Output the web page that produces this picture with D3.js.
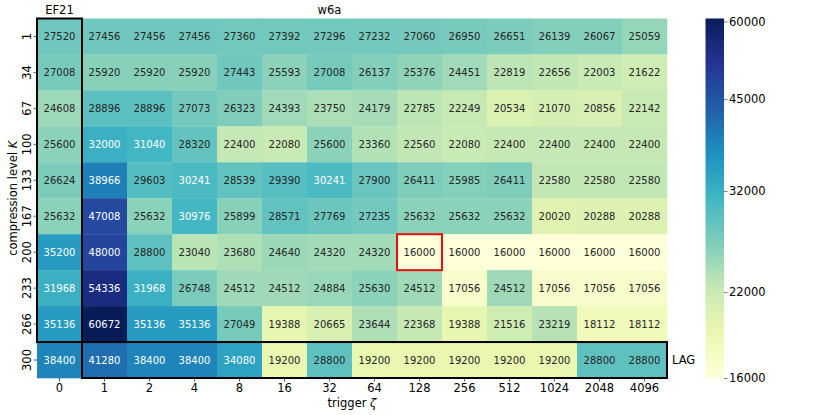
<!DOCTYPE html>
<html>
<head>
<meta charset="utf-8">
<script src="https://cdn.jsdelivr.net/npm/d3@7"></script>
<style>
  body { margin: 0; background: #fff; }
  text { font-family: "DejaVu Sans", sans-serif; }
</style>
</head>
<body>
<svg id="chart" width="830" height="415"></svg>
<script>
const triggers = ["0","1","2","4","8","16","32","64","128","256","512","1024","2048","4096"];
const levels = ["1","34","67","100","133","167","200","233","266","300"];
const values = [
  [27520,27456,27456,27456,27360,27392,27296,27232,27060,26950,26651,26139,26067,25059],
  [27008,25920,25920,25920,27443,25593,27008,26137,25376,24451,22819,22656,22003,21622],
  [24608,28896,28896,27073,26323,24393,23750,24179,22785,22249,20534,21070,20856,22142],
  [25600,32000,31040,28320,22400,22080,25600,23360,22560,22080,22400,22400,22400,22400],
  [26624,38966,29603,30241,28539,29390,30241,27900,26411,25985,26411,22580,22580,22580],
  [25632,47008,25632,30976,25899,28571,27769,27235,25632,25632,25632,20020,20288,20288],
  [35200,48000,28800,23040,23680,24640,24320,24320,16000,16000,16000,16000,16000,16000],
  [31968,54336,31968,26748,24512,24512,24884,25630,24512,17056,24512,17056,17056,17056],
  [35136,60672,35136,35136,27049,19388,20665,23644,22368,19388,21516,23219,18112,18112],
  [38400,41280,38400,38400,34080,19200,28800,19200,19200,19200,19200,19200,28800,28800]
];
const colorbarTicks = [16000, 22000, 32000, 45000, 60000];
const ylgnbu = ["#ffffd9","#edf8b1","#c7e9b4","#7fcdbb","#41b6c4","#1d91c0","#225ea8","#253494","#081d58"];

const svg = d3.select("#chart");
const L = 37, R = 667, T = 18.5, B = 378;

const x = d3.scaleBand().domain(triggers).range([L, R]);
const y = d3.scaleBand().domain(levels).range([T, B]);

const vmin = 16000, vmax = d3.max(values.flat());
const norm = d3.scaleLog().domain([vmin, vmax]).range([0, 1]).clamp(true);
const cmap = d3.scaleLinear()
  .domain(ylgnbu.map((_, i) => i / (ylgnbu.length - 1)))
  .range(ylgnbu)
  .interpolate(d3.interpolateRgb);
const color = v => cmap(norm(v));

function luminance(c) {
  const rgb = d3.rgb(c);
  const f = u => { u /= 255; return u <= 0.03928 ? u / 12.92 : Math.pow((u + 0.055) / 1.055, 2.4); };
  return 0.2126 * f(rgb.r) + 0.7152 * f(rgb.g) + 0.0722 * f(rgb.b);
}

const cells = [];
values.forEach((row, i) => row.forEach((v, j) => cells.push({ r: levels[i], c: triggers[j], v })));

svg.append("g").selectAll("rect").data(cells).join("rect")
  .attr("x", d => x(d.c)).attr("y", d => y(d.r))
  .attr("width", x.bandwidth() + 0.3).attr("height", y.bandwidth() + 0.3)
  .attr("fill", d => color(d.v));

svg.append("g").selectAll("text").data(cells).join("text")
  .attr("x", d => x(d.c) + x.bandwidth() / 2)
  .attr("y", d => y(d.r) + y.bandwidth() / 2)
  .attr("text-anchor", "middle").attr("dominant-baseline", "central")
  .attr("font-size", "10px")
  .attr("fill", d => luminance(color(d.v)) > 0.408 ? "#262626" : "#ffffff")
  .text(d => d.v);

// Boxes
const bw = x.bandwidth(), bh = y.bandwidth();
svg.append("rect")
  .attr("x", x("0")).attr("y", y("1"))
  .attr("width", bw).attr("height", y("300") - y("1"))
  .attr("fill", "none").attr("stroke", "#000").attr("stroke-width", 2);
svg.append("rect")
  .attr("x", x("1")).attr("y", y("300"))
  .attr("width", R - x("1")).attr("height", bh)
  .attr("fill", "none").attr("stroke", "#000").attr("stroke-width", 2);
svg.append("rect")
  .attr("x", x("128")).attr("y", y("200"))
  .attr("width", bw).attr("height", bh)
  .attr("fill", "none").attr("stroke", "#e8100c").attr("stroke-width", 2);

// Axes
const xAxis = svg.append("g").attr("transform", `translate(0,${B})`)
  .call(d3.axisBottom(x).tickSize(3.5).tickPadding(2));
xAxis.select(".domain").remove();
xAxis.selectAll("text").attr("font-size", "11.5px").attr("font-family", "DejaVu Sans").attr("fill", "#000");
xAxis.selectAll("line").attr("stroke", "#333").attr("stroke-width", 0.8);

const yAxis = svg.append("g").attr("transform", `translate(${L},0)`)
  .call(d3.axisLeft(y).tickSize(3.5).tickPadding(3));
yAxis.select(".domain").remove();
yAxis.selectAll("line").attr("stroke", "#333").attr("stroke-width", 0.8);
yAxis.selectAll("text")
  .attr("font-size", "11.5px").attr("font-family", "DejaVu Sans").attr("fill", "#000")
  .attr("text-anchor", "middle").attr("dy", null).attr("x", null)
  .attr("dominant-baseline", "central")
  .attr("transform", "translate(-10,0) rotate(-90)");

// Labels
const xl = svg.append("text").attr("x", (L + R) / 2).attr("y", 406.5)
  .attr("text-anchor", "middle").attr("font-size", "11.5px");
xl.append("tspan").text("trigger ");
xl.append("tspan").attr("font-style", "italic").text("ζ");

const yl = svg.append("text").attr("transform", `translate(16.5,${(T + B) / 2}) rotate(-90)`)
  .attr("text-anchor", "middle").attr("font-size", "11.5px");
yl.append("tspan").text("compression level ");
yl.append("tspan").attr("font-style", "italic").text("K");

svg.append("text").attr("x", x("0") + bw / 2).attr("y", 14).attr("text-anchor", "middle")
  .attr("font-size", "11.5px").text("EF21");
svg.append("text").attr("x", x("32") + bw / 2).attr("y", 14).attr("text-anchor", "middle")
  .attr("font-size", "11.5px").text("w6a");
svg.append("text").attr("x", R + 5).attr("y", y("300") + bh / 2).attr("dominant-baseline", "central")
  .attr("font-size", "11.5px").text("LAG");

// Colorbar
const cbx = 705.5, cbw = 18.5;
const cbScale = d3.scaleLog().domain([vmin, vmax]).range([B, T]);
const defs = svg.append("defs");
const grad = defs.append("linearGradient").attr("id", "cbgrad")
  .attr("x1", 0).attr("y1", 1).attr("x2", 0).attr("y2", 0);
d3.range(0, 1.0001, 0.02).forEach(t => {
  grad.append("stop").attr("offset", t).attr("stop-color", cmap(t));
});
svg.append("rect").attr("x", cbx).attr("y", T).attr("width", cbw).attr("height", B - T)
  .attr("fill", "url(#cbgrad)");
const cbAxis = svg.append("g").attr("transform", `translate(${cbx + cbw},0)`)
  .call(d3.axisRight(cbScale).tickValues(colorbarTicks).tickFormat(d3.format("d")).tickSize(3.5).tickPadding(1.5));
cbAxis.select(".domain").remove();
cbAxis.selectAll("line").attr("stroke", "#555").attr("stroke-width", 0.8);
cbAxis.selectAll("text").attr("font-size", "11.5px").attr("font-family", "DejaVu Sans").attr("fill", "#000");
</script>
</body>
</html>
